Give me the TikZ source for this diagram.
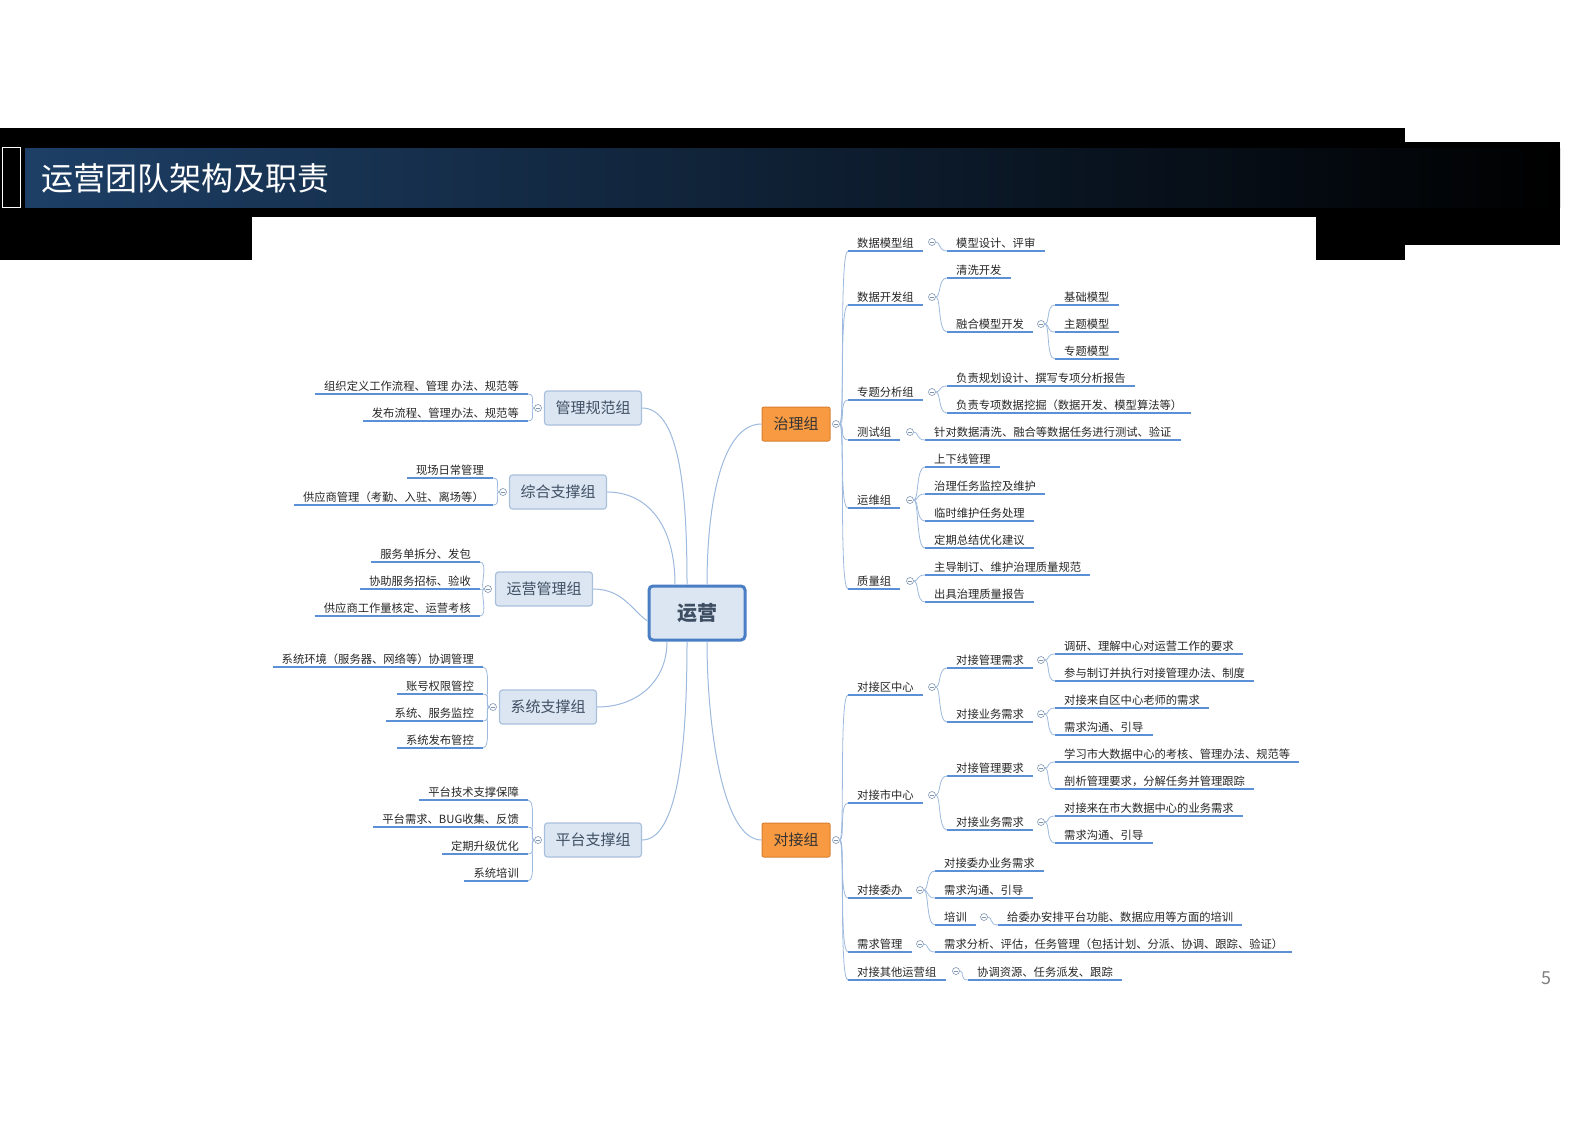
\documentclass[tikz,border=0pt]{standalone}
\usepackage{fontspec}
\setmainfont{Noto Sans CJK SC}
\definecolor{ulc}{HTML}{5B8FD6}
\definecolor{brc}{HTML}{9DB9DD}
\definecolor{bfill}{HTML}{DCE6F2}
\definecolor{bdraw}{HTML}{A9C0DC}
\definecolor{btext}{HTML}{3F4F63}
\definecolor{rdraw}{HTML}{4A7EC4}
\definecolor{ofill}{HTML}{F79A42}
\definecolor{odraw}{HTML}{D98030}
\definecolor{hb1}{HTML}{1D3F66}
\definecolor{hb2}{HTML}{3C5064}
\begin{document}
\begin{tikzpicture}[x=1pt,y=-1pt,
  leaf/.style={inner xsep=9pt,inner ysep=2.5pt,font=\fontsize{11.3}{12}\selectfont,text=black!85},
  ul/.style={draw=ulc,line width=2.2pt},
  br/.style={draw=brc,line width=0.8pt},
  cc/.style={circle,draw=brc!80!black,line width=0.6pt,minimum size=7pt,inner sep=0pt,fill=white,
     path picture={\draw[brc!80!black,line width=0.5pt] ([xshift=-2pt]path picture bounding box.center)--([xshift=2pt]path picture bounding box.center);}},
  gbox/.style={draw=bdraw,fill=bfill,rounded corners=3pt,line width=1.2pt,minimum width=97pt,minimum height=34pt,font=\fontsize{15}{15}\selectfont,text=btext},
  obox/.style={draw=odraw,fill=ofill,rounded corners=2pt,line width=1pt,minimum width=68pt,minimum height=34pt,font=\fontsize{15}{15}\selectfont,text=black!80},
  rootl/.style={br,line width=1pt}
]
\useasboundingbox (0,0) rectangle (1587,1122);
% header
\fill[black] (0,128) rectangle (1405,260);
\fill[black] (1400,142) rectangle (1560,245);
\shade[left color=hb1,middle color=hb2,right color=black] (25,148) rectangle (1560,207);
\draw[white,line width=1pt] (2,147) rectangle (20,207);
\node[anchor=west,text=white,font=\fontsize{32}{34}\selectfont] (title) at (38,178) {运营团队架构及职责};
\fill[white] (252,217) rectangle (1316,262);
\node[text=gray,font=\fontsize{18}{18}\selectfont] (pn) at (1546,978) {5};

\newcommand\mmcc[3]{\node[cc] (#1) at (#2,#3) {};}
\newcommand\mmrl[5]{\node[leaf,anchor=south west] (#1) at (#2,#3) {#4};\draw[ul] (#1.south west)--(#1.south east);\draw[br] (#5) .. controls +(9,0) and +(-9,0) .. (#1.south west);}
\newcommand\mmll[5]{\node[leaf,anchor=south east] (#1) at (#2,#3) {#4};\draw[ul] (#1.south west)--(#1.south east);\draw[br] (#5) .. controls +(-9,0) and +(9,0) .. (#1.south east);}

% root
\node[draw=rdraw,fill=bfill,line width=3pt,rounded corners=4pt,minimum width=96pt,minimum height=54pt,font=\bfseries\fontsize{20}{20}\selectfont,text=btext] (root) at (697,613) {运营};

\node[gbox] (g1) at (593,408) {管理规范组};
\node[gbox] (g2) at (558,492) {综合支撑组};
\node[gbox] (g3) at (544,589) {运营管理组};
\node[gbox] (g4) at (548,707) {系统支撑组};
\node[gbox] (g5) at (593,840) {平台支撑组};
\node[obox] (z) at (796,424) {治理组};
\node[obox] (d) at (796,840) {对接组};

\draw[rootl] (g1.east) .. controls +(40,0) and +(0,-80) .. ([xshift=-10pt]root.north);
\draw[rootl] (g2.east) .. controls +(40,0) and +(0,-60) .. ([xshift=-22pt]root.north);
\draw[rootl] (g3.east) .. controls +(30,0) and +(-15,-10) .. ([yshift=-8pt]root.west);
\draw[rootl] (g4.east) .. controls +(40,0) and +(0,40) .. ([xshift=-30pt]root.south);
\draw[rootl] (g5.east) .. controls +(40,0) and +(0,80) .. ([xshift=-10pt]root.south);
\draw[rootl] (z.west) .. controls +(-40,0) and +(0,-80) .. ([xshift=10pt]root.north);
\draw[rootl] (d.west) .. controls +(-40,0) and +(0,80) .. ([xshift=10pt]root.south);

\mmcc{cg1}{538}{408}
\mmll{a1}{528}{394}{组织定义工作流程、管理 办法、规范等}{cg1}
\mmll{a2}{528}{421}{发布流程、管理办法、规范等}{cg1}
\mmcc{cg2}{503}{492}
\mmll{b1}{493}{478}{现场日常管理}{cg2}
\mmll{b2}{493}{505}{供应商管理（考勤、入驻、离场等）}{cg2}
\mmcc{cg3}{488}{589}
\mmll{c1}{480}{562}{服务单拆分、发包}{cg3}
\mmll{c2}{480}{589}{协助服务招标、验收}{cg3}
\mmll{c3}{480}{616}{供应商工作量核定、运营考核}{cg3}
\mmcc{cg4}{493}{707}
\mmll{e1}{483}{667}{系统环境（服务器、网络等）协调管理}{cg4}
\mmll{e2}{483}{694}{账号权限管控}{cg4}
\mmll{e3}{483}{721}{系统、服务监控}{cg4}
\mmll{e4}{483}{748}{系统发布管控}{cg4}
\mmcc{cg5}{538}{840}
\mmll{f1}{528}{800}{平台技术支撑保障}{cg5}
\mmll{f2}{528}{827}{平台需求、BUG收集、反馈}{cg5}
\mmll{f3}{528}{854}{定期升级优化}{cg5}
\mmll{f4}{528}{881}{系统培训}{cg5}

\mmcc{cz}{836}{424}
\mmrl{z1}{848}{251}{数据模型组}{cz}
\mmcc{cz1}{932}{242}
\mmrl{z11}{947}{251}{模型设计、评审}{cz1}
\mmrl{z2}{848}{305}{数据开发组}{cz}
\mmcc{cz2}{932}{297}
\mmrl{z21}{947}{278}{清洗开发}{cz2}
\mmrl{z22}{947}{332}{融合模型开发}{cz2}
\mmcc{cz22}{1041}{324}
\mmrl{z221}{1055}{305}{基础模型}{cz22}
\mmrl{z222}{1055}{332}{主题模型}{cz22}
\mmrl{z223}{1055}{359}{专题模型}{cz22}
\mmrl{z3}{848}{400}{专题分析组}{cz}
\mmcc{cz3}{932}{392}
\mmrl{z31}{947}{386}{负责规划设计、撰写专项分析报告}{cz3}
\mmrl{z32}{947}{413}{负责专项数据挖掘（数据开发、模型算法等）}{cz3}
\mmrl{z4}{848}{440}{测试组}{cz}
\mmcc{cz4}{910}{432}
\mmrl{z41}{925}{440}{针对数据清洗、融合等数据任务进行测试、验证}{cz4}
\mmrl{z5}{848}{508}{运维组}{cz}
\mmcc{cz5}{910}{500}
\mmrl{z51}{925}{467}{上下线管理}{cz5}
\mmrl{z52}{925}{494}{治理任务监控及维护}{cz5}
\mmrl{z53}{925}{521}{临时维护任务处理}{cz5}
\mmrl{z54}{925}{548}{定期总结优化建议}{cz5}
\mmrl{z6}{848}{589}{质量组}{cz}
\mmcc{cz6}{910}{581}
\mmrl{z61}{925}{575}{主导制订、维护治理质量规范}{cz6}
\mmrl{z62}{925}{602}{出具治理质量报告}{cz6}

\mmcc{cd}{836}{840}
\mmrl{d1}{848}{695}{对接区中心}{cd}
\mmcc{cd1}{932}{687}
\mmrl{d11}{947}{668}{对接管理需求}{cd1}
\mmcc{cd11}{1041}{660}
\mmrl{d111}{1055}{654}{调研、理解中心对运营工作的要求}{cd11}
\mmrl{d112}{1055}{681}{参与制订并执行对接管理办法、制度}{cd11}
\mmrl{d12}{947}{722}{对接业务需求}{cd1}
\mmcc{cd12}{1041}{714}
\mmrl{d121}{1055}{708}{对接来自区中心老师的需求}{cd12}
\mmrl{d122}{1055}{735}{需求沟通、引导}{cd12}
\mmrl{d2}{848}{803}{对接市中心}{cd}
\mmcc{cd2}{932}{795}
\mmrl{d21}{947}{776}{对接管理要求}{cd2}
\mmcc{cd21}{1041}{768}
\mmrl{d211}{1055}{762}{学习市大数据中心的考核、管理办法、规范等}{cd21}
\mmrl{d212}{1055}{789}{剖析管理要求，分解任务并管理跟踪}{cd21}
\mmrl{d22}{947}{830}{对接业务需求}{cd2}
\mmcc{cd22}{1041}{822}
\mmrl{d221}{1055}{816}{对接来在市大数据中心的业务需求}{cd22}
\mmrl{d222}{1055}{843}{需求沟通、引导}{cd22}
\mmrl{d3}{848}{898}{对接委办}{cd}
\mmcc{cd3}{920}{890}
\mmrl{d31}{935}{871}{对接委办业务需求}{cd3}
\mmrl{d32}{935}{898}{需求沟通、引导}{cd3}
\mmrl{d33}{935}{925}{培训}{cd3}
\mmcc{cd33}{984}{917}
\mmrl{d331}{998}{925}{给委办安排平台功能、数据应用等方面的培训}{cd33}
\mmrl{d4}{848}{952}{需求管理}{cd}
\mmcc{cd4}{920}{944}
\mmrl{d41}{935}{952}{需求分析、评估，任务管理（包括计划、分派、协调、跟踪、验证）}{cd4}
\mmrl{d5}{848}{980}{对接其他运营组}{cd}
\mmcc{cd5}{956}{971}
\mmrl{d51}{968}{980}{协调资源、任务派发、跟踪}{cd5}
\end{tikzpicture}
\end{document}
